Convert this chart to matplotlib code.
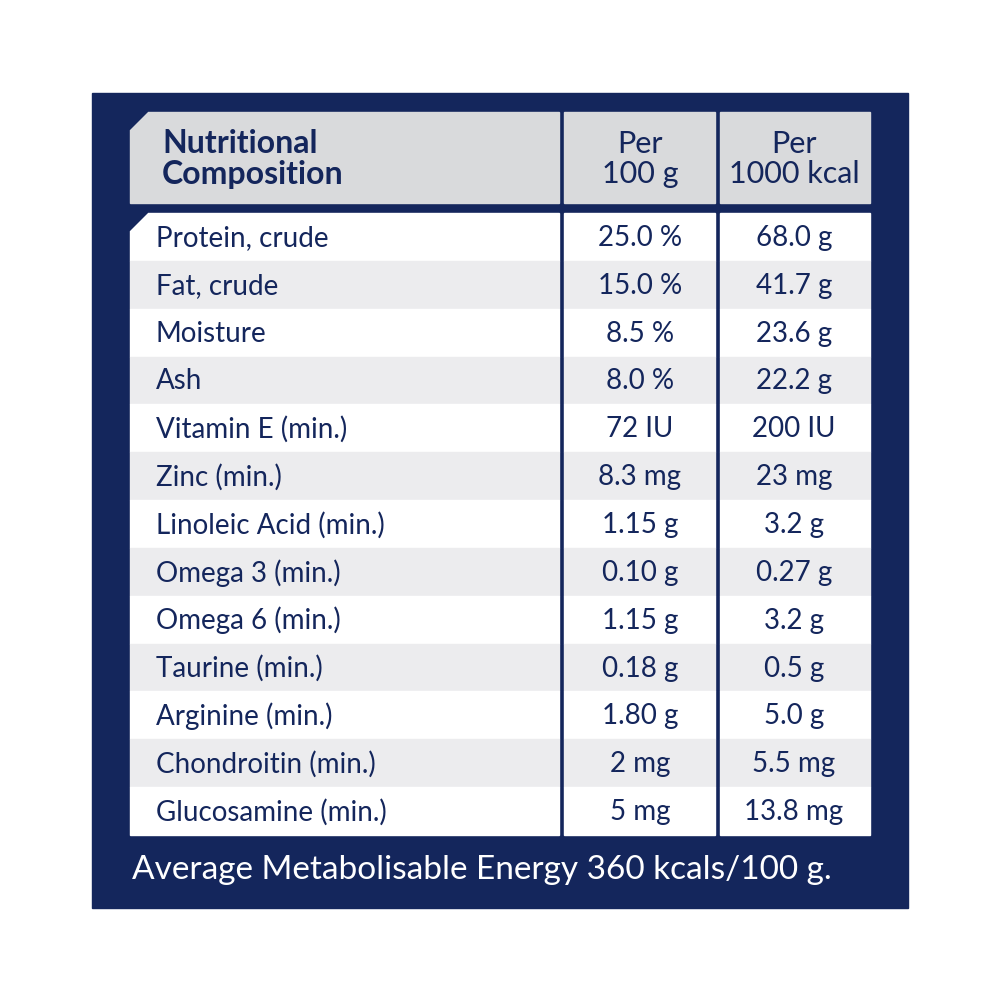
import matplotlib
matplotlib.use("Agg")
import matplotlib.pyplot as plt
from matplotlib.patches import Rectangle, Polygon

nutrients = ["Protein, crude", "Fat, crude", "Moisture", "Ash", "Vitamin E (min.)",
             "Zinc (min.)", "Linoleic Acid (min.)", "Omega 3 (min.)", "Omega 6 (min.)",
             "Taurine (min.)", "Arginine (min.)", "Chondroitin (min.)", "Glucosamine (min.)"]
per_100g = ["25.0 %", "15.0 %", "8.5 %", "8.0 %", "72 IU", "8.3 mg", "1.15 g", "0.10 g",
            "1.15 g", "0.18 g", "1.80 g", "2 mg", "5 mg"]
per_1000kcal = ["68.0 g", "41.7 g", "23.6 g", "22.2 g", "200 IU", "23 mg", "3.2 g", "0.27 g",
                "3.2 g", "0.5 g", "5.0 g", "5.5 mg", "13.8 mg"]
headers = ["Nutritional\nComposition", "Per\n100 g", "Per\n1000 kcal"]
footer = "Average Metabolisable Energy 360 kcals/100 g."

NAVY = "#14265c"
GRAY = "#d9dadc"
LIGHT = "#ececee"
FONT = "Lato"

fig = plt.figure(figsize=(10, 10), dpi=100)
ax = fig.add_axes([0, 0, 1, 1])
ax.set_xlim(0, 1000); ax.set_ylim(1000, 0); ax.axis("off")

ax.add_patch(Rectangle((92, 93), 816, 815, color=NAVY))
cols = [(130, 559), (564, 715), (720, 870)]
ht, hb = 112, 203
ax.add_patch(Polygon([(148, ht), (559, ht), (559, hb), (130, hb), (130, 130)], color=GRAY))
ax.add_patch(Rectangle((564, ht), 151, hb - ht, color=GRAY))
ax.add_patch(Rectangle((720, ht), 150, hb - ht, color=GRAY))
ax.text(162, 159, headers[0], ha="left", va="center", fontsize=23, fontweight="bold",
        color=NAVY, family=FONT, linespacing=1.05)
ax.text(640, 159, headers[1], ha="center", va="center", fontsize=22, color=NAVY, family=FONT, linespacing=1.05)
ax.text(794, 159, headers[2], ha="center", va="center", fontsize=22, color=NAVY, family=FONT, linespacing=1.05)

top, bot = 213, 835
n = len(nutrients)
rh = (bot - top) / n
for i in range(n):
    y0 = top + i * rh
    c = "white" if i % 2 == 0 else LIGHT
    for j, (x0, x1) in enumerate(cols):
        if i == 0 and j == 0:
            ax.add_patch(Polygon([(148, y0), (x1, y0), (x1, y0 + rh), (x0, y0 + rh), (x0, y0 + 18)], color=c))
        else:
            ax.add_patch(Rectangle((x0, y0), x1 - x0, rh, color=c))
    yc = y0 + rh / 2 + 1
    ax.text(156, yc, nutrients[i], ha="left", va="center", fontsize=20, color=NAVY, family=FONT)
    ax.text(640, yc, per_100g[i], ha="center", va="center", fontsize=20, color=NAVY, family=FONT)
    ax.text(794, yc, per_1000kcal[i], ha="center", va="center", fontsize=20, color=NAVY, family=FONT)

ax.text(132, 870, footer, ha="left", va="center", fontsize=24, color="white", family=FONT)
fig.savefig("out.png", dpi=100)
